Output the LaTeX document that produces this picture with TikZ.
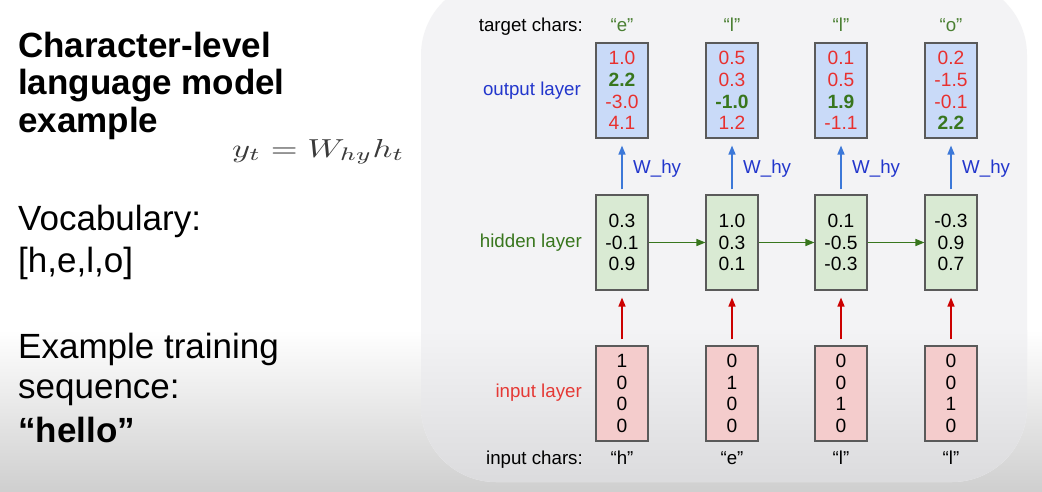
\documentclass[tikz,border=0pt]{standalone}
\usepackage{fontspec}
\setmainfont{Liberation Sans}
\usetikzlibrary{arrows.meta}
\definecolor{outfill}{HTML}{C9DAF8}
\definecolor{hidfill}{HTML}{D9EAD3}
\definecolor{infill}{HTML}{F4CCCC}
\definecolor{boxline}{HTML}{5A5A5A}
\definecolor{numred}{HTML}{E8302F}
\definecolor{numgreen}{HTML}{38761D}
\definecolor{tgreen}{HTML}{4A7F32}
\definecolor{lblblue}{HTML}{2236CC}
\definecolor{arrblue}{HTML}{3C78D8}
\definecolor{arrred}{HTML}{CC0000}
\definecolor{arrgreen}{HTML}{38761D}
\definecolor{lblred}{HTML}{E53935}
\definecolor{panelcol}{HTML}{F3F3F5}
\definecolor{panelbot}{HTML}{DADADC}
\definecolor{bgbot}{HTML}{CFCFCF}
\definecolor{eqcol}{HTML}{3A3A3A}
\newcommand{\gnum}[1]{\textcolor{numgreen}{\textbf{#1}}}
\begin{document}
\begin{tikzpicture}[x=1pt,y=-1pt,
  cell/.style={draw=boxline, line width=1.1pt, minimum width=52pt, minimum height=95pt,
    inner sep=0pt, align=center, font=\fontsize{19.2}{21.7}\selectfont},
  outbox/.style={cell, fill=outfill, text=numred},
  hidbox/.style={cell, fill=hidfill, text=black},
  inbox/.style={cell, fill=infill, text=black},
  lbl/.style={anchor=base east, inner sep=0pt, font=\fontsize{18.7}{21.7}\selectfont},
  chr/.style={anchor=base, inner sep=0pt, font=\fontsize{18.7}{21.7}\selectfont},
  whylbl/.style={anchor=base west, inner sep=0pt, text=lblblue, font=\fontsize{18.7}{21.7}\selectfont},
  blueup/.style={line width=1.4pt, draw=arrblue, -{Triangle[length=9pt,width=7pt]}, shorten <=5pt, shorten >=7pt},
  redup/.style={line width=1.4pt, draw=arrred, -{Triangle[length=9pt,width=7pt]}, shorten <=6pt, shorten >=7pt},
  greenright/.style={line width=1.4pt, draw=arrgreen, -{Triangle[length=9pt,width=7pt]}},
  big/.style={anchor=base west, inner sep=0pt, font=\fontsize{35}{40}\selectfont},
]
\useasboundingbox (0,0) rectangle (1042,491);
% background
\fill[white] (0,0) rectangle (1042,491);
\shade[top color=white, bottom color=bgbot] (0,330) rectangle (1042,491);
% panel
\fill[panelcol, rounded corners=75pt] (421,-20) rectangle (1027,482);
\begin{scope}
  \clip[rounded corners=75pt] (421,-20) rectangle (1027,482);
  \shade[top color=panelcol, bottom color=panelbot] (421,330) rectangle (1027,491);
\end{scope}

% left text
\node[big, font=\fontsize{35}{40}\selectfont\bfseries] (t1) at (18,57) {Character-level};
\node[big, font=\fontsize{35}{40}\selectfont\bfseries] (t2) at (18,94.5) {language model};
\node[big, font=\fontsize{35}{40}\selectfont\bfseries] (t3) at (18,132) {example};
\node[big] (v1) at (18,230) {Vocabulary:};
\node[big] (v2) at (18,272) {[h,e,l,o]};
\node[big] (e1) at (18,358) {Example training};
\node[big] (e2) at (18,398) {sequence:};
\node[big, font=\fontsize{35}{40}\selectfont\bfseries] (e3) at (18,442) {“hello”};
\node[anchor=base west, inner sep=0pt, text=eqcol] (eq) at (232,157)
  {\scalebox{3.45}[2.6]{$y_t = W_{hy} h_t$}};

% row labels
\node[lbl] (lt) at (583,31.5) {target chars:};
\node[lbl, text=lblblue] (lo) at (581,95) {output layer};
\node[lbl, text=numgreen] (lh) at (582,247.5) {hidden layer};
\node[lbl, text=lblred] (li) at (582,397) {input layer};
\node[lbl] (lc) at (583,464) {input chars:};

% output layer
\node[outbox] (o1) at (622,90.5) {1.0\\\gnum{2.2}\\-3.0\\4.1};
\node[outbox] (o2) at (732,90.5) {0.5\\0.3\\\gnum{-1.0}\\1.2};
\node[outbox] (o3) at (841,90.5) {0.1\\0.5\\\gnum{1.9}\\-1.1};
\node[outbox] (o4) at (951,90.5) {0.2\\-1.5\\-0.1\\\gnum{2.2}};

% hidden layer
\node[hidbox] (h1) at (622,242.5) {0.3\\-0.1\\0.9};
\node[hidbox] (h2) at (732,242.5) {1.0\\0.3\\0.1};
\node[hidbox] (h3) at (841,242.5) {0.1\\-0.5\\-0.3};
\node[hidbox] (h4) at (951,242.5) {-0.3\\0.9\\0.7};

% input layer
\node[inbox] (i1) at (622,393.5) {1\\0\\0\\0};
\node[inbox] (i2) at (732,393.5) {0\\1\\0\\0};
\node[inbox] (i3) at (841,393.5) {0\\0\\1\\0};
\node[inbox] (i4) at (951,393.5) {0\\0\\1\\0};

% target chars
\node[chr, text=tgreen] (c1) at (622,31.5) {“e”};
\node[chr, text=tgreen] (c2) at (732,31.5) {“l”};
\node[chr, text=tgreen] (c3) at (841,31.5) {“l”};
\node[chr, text=tgreen] (c4) at (951,31.5) {“o”};

% input chars
\node[chr] (d1) at (622,464) {“h”};
\node[chr] (d2) at (732,464) {“e”};
\node[chr] (d3) at (841,464) {“l”};
\node[chr] (d4) at (951,464) {“l”};

% arrows
\foreach \k in {1,2,3,4} {
  \draw[blueup] (h\k.north) -- (o\k.south);
  \draw[redup] (i\k.north) -- (h\k.south);
}
\draw[greenright] (h1.east) -- (h2.west);
\draw[greenright] (h2.east) -- (h3.west);
\draw[greenright] (h3.east) -- (h4.west);

% W_hy labels
\node[whylbl] (w1) at (633,173.5) {W\_hy};
\node[whylbl] (w2) at (743,173.5) {W\_hy};
\node[whylbl] (w3) at (852,173.5) {W\_hy};
\node[whylbl] (w4) at (962,173.5) {W\_hy};
\end{tikzpicture}
\end{document}
